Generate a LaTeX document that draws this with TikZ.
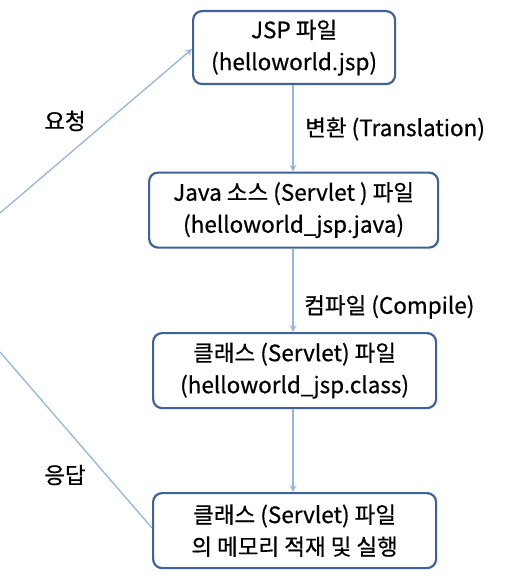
\documentclass[tikz,border=0pt]{standalone}
\usepackage{fontspec}
\setmainfont{Noto Sans CJK KR}[FakeBold=0.6]
\usetikzlibrary{arrows.meta}
\definecolor{boxline}{HTML}{3F6398}
\definecolor{arrowline}{HTML}{93B6DE}
\tikzset{
  x=1pt, y=-1pt,
  fbox/.style={draw=boxline, line width=2.2pt, rounded corners=9pt, fill=white, align=center,
    font=\fontsize{22.5}{32}\selectfont, inner sep=0pt, anchor=north west},
  conn/.style={draw=arrowline, line width=1.3pt},
  arr/.style={conn, -{Stealth[length=7pt,width=7pt,inset=3pt]}},
  lbl/.style={font=\fontsize{22.5}{26}\selectfont, inner sep=0pt}
}
\begin{document}
\begin{tikzpicture}
\useasboundingbox (0,0) rectangle (514,580);
\node[fbox, minimum width=202pt, minimum height=73pt] (b1) at (192,10) {JSP 파일\\(helloworld.jsp)};
\node[fbox, minimum width=289pt, minimum height=75pt] (b2) at (148,171.5) {Java 소스 (Servlet ) 파일\\(helloworld\_jsp.java)};
\node[fbox, minimum width=283pt, minimum height=75pt] (b3) at (152,332) {클래스 (Servlet) 파일\\(helloworld\_jsp.class)};
\node[fbox, minimum width=283pt, minimum height=75pt] (b4) at (152,492) {클래스 (Servlet) 파일\\의 메모리 적재 및 실행};
\coordinate (reqstart) at (0,213);
\coordinate (resend) at (0,352);
\draw[arr] (reqstart) -- (b1.west |- 0,49);
\draw[conn] (resend) -- (b4.west |- 0,528);
\draw[arr] (b1.south -| 293,0) -- (b2.north -| 293,0);
\draw[arr] (b2.south -| 293,0) -- (b3.north -| 293,0);
\draw[arr] (b3.south -| 293,0) -- (b4.north -| 293,0);
\node[lbl, anchor=center] (lreq) at (65,121) {요청};
\node[lbl, anchor=center] (lres) at (65,475) {응답};
\node[lbl, anchor=west] (ltr) at (305,129) {변환 (Translation)};
\node[lbl, anchor=west] (lco) at (304,307) {컴파일 (Compile)};
\end{tikzpicture}
\end{document}
